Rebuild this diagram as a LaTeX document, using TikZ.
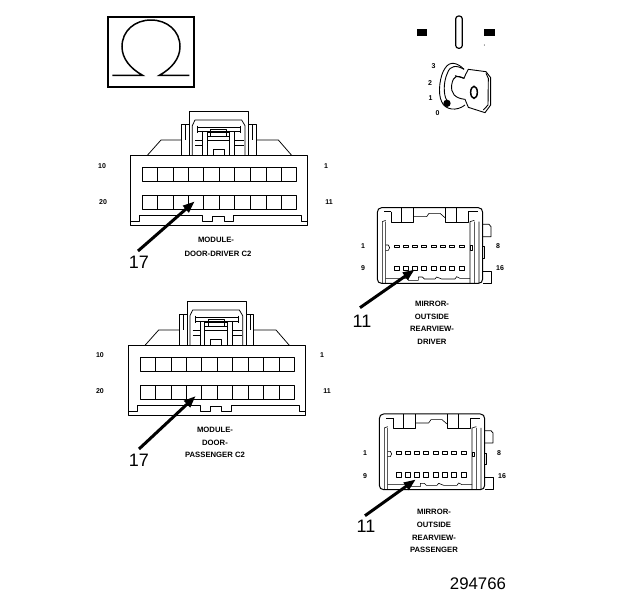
\documentclass[tikz,border=0pt]{standalone}
\usepackage{fontspec}
\setmainfont{Liberation Sans}
\usetikzlibrary{arrows.meta}
\tikzset{
  pinlabel/.style={font=\fontsize{7}{8}\selectfont\bfseries, inner sep=0pt},
  caption/.style={font=\fontsize{7.7}{9}\selectfont\bfseries, inner sep=0pt},
  callnum/.style={font=\fontsize{18}{20}\selectfont, inner sep=0pt},
  pointer/.style={line width=3pt, -{Triangle[length=12pt,width=8.5pt]}, shorten >=-1pt},
  fine/.style={line width=0.75pt, line join=round},
  med/.style={line width=1pt, line join=round},
  modconn/.pic={
    \begin{scope}[x=1pt/3,y=-1pt/3,fine]
      \draw[med] (122,151) rectangle (653,360);
      \draw (172,151) -- (213,105) -- (275,105) (498,105) -- (565,105) -- (605,151);
      \draw (275,151) -- (275,58) -- (298,58) (476,58) -- (498,58) -- (498,151);
      \draw (298,151) -- (298,18) -- (476,18) -- (476,151);
      \draw (287,58) -- (287,105) (488,58) -- (488,105);
      \draw (307,151) -- (307,62) -- (315,45) -- (455,45) -- (465,62) -- (465,151);
      \draw[med] (322,68) -- (452,68) (322,78) -- (452,78);
      \draw (322,62) -- (322,85) (452,62) -- (452,85);
      \draw (337,82) -- (337,151) (351,82) -- (351,151) (418,82) -- (418,151) (433,82) -- (433,151);
      \draw (351,82) -- (418,82) (351,95) -- (418,95) (351,107) -- (418,107) (362,72) rectangle (410,95);
      \draw (315,107) -- (337,107) (433,107) -- (462,107) (315,122) -- (337,122) (433,122) -- (462,122);
      \draw (369,151) -- (369,133) -- (402,133) -- (402,151);
      \foreach \yy/\yb in {188/230,272/314}{
        \draw (157,\yy) rectangle (620,\yb);
        \foreach \xx in {203,250,295,340,389,434,481,528,574}
          \draw (\xx,\yy) -- (\xx,\yb);
      }
      \draw (122,349) -- (148,349) -- (148,331) -- (338,331) -- (338,349) -- (367,349) -- (367,333) -- (402,333) -- (402,349) -- (430,349) -- (430,331) -- (635,331) -- (635,349) -- (653,349);
    \end{scope}
  },
  mirrorconn/.pic={
    \begin{scope}[x=1pt/3,y=-1pt/3,line width=0.6pt, line join=round]
      \draw[med] (110,38) -- (400,38) .. controls (408,38) and (413,44) .. (413,52) -- (413,252) .. controls (413,260) and (408,265) .. (400,265) -- (110,265) .. controls (102,265) and (97,260) .. (97,252) -- (97,52) .. controls (97,44) and (102,38) .. (110,38) -- cycle;
      \draw (139,50) -- (139,82) -- (205,82) -- (205,38) (170,38) -- (170,82);
      \draw (205,65) -- (245,65) -- (252,55) -- (285,55) -- (300,68);
      \draw (300,38) -- (300,82) -- (370,82) -- (370,50) (335,38) -- (335,82);
      \draw (139,50) -- (118,50) (370,50) -- (398,50);
      \draw (112,80) -- (112,265) (122,80) -- (122,265) (112,80) -- (122,76);
      \draw (375,80) -- (375,265) (388,80) -- (388,265) (402,80) -- (402,265) (375,80) -- (388,76);
      \draw (122,250) -- (190,250) -- (190,256) -- (220,256) -- (220,246) -- (232,246) -- (238,252) -- (270,252) -- (275,246) -- (290,252) -- (330,252) -- (335,245) -- (345,250) -- (375,250);
      \draw (122,150) -- (130,150) -- (134,158) -- (130,166) -- (122,166);
      \draw (375,152) rectangle (381,166);
      \draw[fine] (413,88) -- (432,88) -- (438,95) -- (438,125) -- (413,125);
      \draw (413,155) -- (418,155) -- (418,190) -- (413,190);
      \draw[fine] (413,228) -- (440,228) -- (440,265) -- (413,265);
      \foreach \xx in {148,175,201,229,258,285,313,342}{
        \draw (\xx,150) rectangle ++(15,8);
        \draw (\xx,213) rectangle ++(15,14);
      }
    \end{scope}
  }
}
\begin{document}
\begin{tikzpicture}[x=1pt,y=-1pt]
\useasboundingbox (0,0) rectangle (624,600);
\fill[white] (0,0) rectangle (624,600);

% Omega lamp symbol
\begin{scope}[shift={(90,0)},x=1pt/3,y=-1pt/3]
  \draw[line width=1.7pt] (53,52) rectangle (311,261);
  \draw[line width=1.5pt] (67,226) -- (158,226) .. controls (120,205) and (96,175) .. (96,140) .. controls (96,92) and (135,60) .. (183,60) .. controls (231,60) and (270,92) .. (270,140) .. controls (270,175) and (246,205) .. (208,226) -- (298,226);
\end{scope}

% Lock and key
\begin{scope}[shift={(400,10)},x=1pt/3,y=-1pt/3]
  \fill (50,57) rectangle (80,77);
  \fill (252,57) rectangle (284,77);
  \draw[line width=1.2pt, rounded corners=3pt] (167,18) rectangle (187,115);
  \fill (253,105) circle (1.5);
  \draw[line width=0.9pt] (192,178) .. controls (175,160) and (150,150) .. (135,175) .. controls (120,195) and (112,250) .. (125,275) .. controls (135,300) and (170,305) .. (195,285);
  \draw[line width=0.9pt] (192,178) .. controls (170,165) and (150,165) .. (142,190) .. controls (130,215) and (130,255) .. (140,270);
  \draw[line width=0.9pt] (192,205) .. controls (172,195) and (160,195) .. (155,225) .. controls (152,250) and (165,265) .. (195,268);
  \draw[line width=0.9pt] (165,197) -- (192,205) -- (197,193) -- (205,178) -- (258,185) -- (272,203) -- (272,285) -- (255,308) -- (205,292) -- (195,268);
  \draw[line width=0.9pt] (258,190) -- (265,205) -- (264,285) -- (250,300);
  \draw[line width=1.5pt] (222,247) ellipse (10 and 18);
  \fill (141,280) circle (11);
\end{scope}
\node[pinlabel] (k3) at (433.5,66) {3};
\node[pinlabel] (k2) at (430,83) {2};
\node[pinlabel] (k1) at (430.5,98) {1};
\node[pinlabel] (k0) at (437.5,113) {0};

% Door module connectors
\pic at (90,105) {modconn};
\pic at (87.67,295) {modconn};

\node[pinlabel] (a10) at (102,166) {10};
\node[pinlabel] (a1) at (326,166) {1};
\node[pinlabel] (a20) at (103,202) {20};
\node[pinlabel] (a11) at (329,202) {11};
\node[caption] (at1) at (216,240) {MODULE-};
\node[caption] (at2) at (218,254) {DOOR-DRIVER C2};
\node[callnum] (an) at (139,262) {17};
\coordinate (as) at (138,251);
\coordinate (ae) at (194,202);
\draw[pointer] (as) -- (ae);

\node[pinlabel] (b10) at (100,355) {10};
\node[pinlabel] (b1) at (322,355) {1};
\node[pinlabel] (b20) at (100,391) {20};
\node[pinlabel] (b11) at (327,391) {11};
\node[caption] (bt1) at (215,430) {MODULE-};
\node[caption] (bt2) at (215,443) {DOOR-};
\node[caption] (bt3) at (215,455) {PASSENGER C2};
\node[callnum] (bn) at (139,460) {17};
\coordinate (bs) at (139,449);
\coordinate (be) at (195,396.7);
\draw[pointer] (bs) -- (be);

% Mirror connectors
\pic at (345,195) {mirrorconn};
\pic at (347,401.3) {mirrorconn};

\node[pinlabel] (c1) at (363,246) {1};
\node[pinlabel] (c8) at (498,246) {8};
\node[pinlabel] (c9) at (363,268) {9};
\node[pinlabel] (c16) at (500,268) {16};
\node[caption] (ct1) at (432,304) {MIRROR-};
\node[caption] (ct2) at (432,317) {OUTSIDE};
\node[caption] (ct3) at (432,329) {REARVIEW-};
\node[caption] (ct4) at (432,342) {DRIVER};
\node[callnum] (cn) at (362,321) {11};
\coordinate (cs) at (360,307.7);
\coordinate (ce) at (414,270);
\draw[pointer] (cs) -- (ce);

\node[pinlabel] (d1) at (365,453) {1};
\node[pinlabel] (d8) at (499,453) {8};
\node[pinlabel] (d9) at (365,476) {9};
\node[pinlabel] (d16) at (502,476) {16};
\node[caption] (dt1) at (434,512) {MIRROR-};
\node[caption] (dt2) at (434,525) {OUTSIDE};
\node[caption] (dt3) at (434,538) {REARVIEW-};
\node[caption] (dt4) at (434,550) {PASSENGER};
\node[callnum] (dn) at (366,526) {11};
\coordinate (ds) at (365,515.7);
\coordinate (de) at (415,480);
\draw[pointer] (ds) -- (de);

\node[font=\fontsize{16.8}{18}\selectfont, inner sep=0pt] (fig) at (478,584) {294766};
\end{tikzpicture}
\end{document}
